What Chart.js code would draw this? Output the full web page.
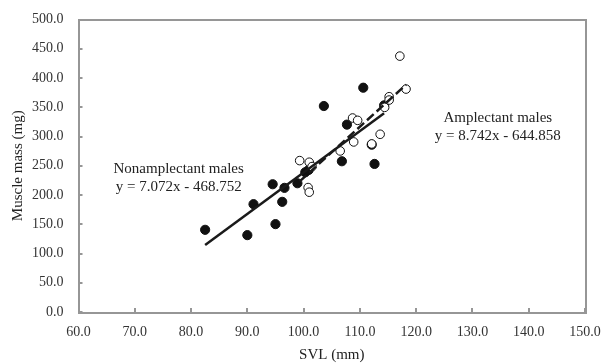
<!DOCTYPE html>
<html>
<head>
<meta charset="utf-8">
<script src="https://cdn.jsdelivr.net/npm/chart.js@4.4.1/dist/chart.umd.min.js"></script>
<style>
  html, body { margin: 0; padding: 0; background: #fff; }
  #wrap { width: 615px; height: 364px; }
</style>
</head>
<body>
<div id="wrap"><canvas id="muscleChart"></canvas></div>
<script>
// values
const nonSVL  = [82.5, 90.0, 91.1, 94.5, 95.0, 96.6, 96.2, 98.9, 100.3, 100.9, 103.6, 106.8, 107.7, 110.6, 112.1, 112.6, 114.3];
const nonMass = [140.5, 131.4, 184.3, 218.4, 150.2, 212.2, 188.3, 220.1, 238.9, 242.9, 352.1, 257.7, 320.3, 383.4, 286.0, 253.1, 353.2];

const ampSVL  = [99.3, 101.0, 101.5, 100.8, 101.0, 106.5, 108.7, 109.6, 108.9, 112.1, 113.6, 114.4, 115.2, 115.2, 117.1, 118.2];
const ampMass = [258.8, 256.0, 248.6, 212.7, 204.8, 275.3, 331.6, 327.6, 290.7, 287.3, 303.8, 349.8, 368.0, 362.3, 437.4, 381.1];

// trendlines as printed on the chart
const nonFit = {slope: 7.072, intercept: -468.752, from: 82.5, to: 114.3};
const ampFit = {slope: 8.742, intercept: -644.858, from: 99.3, to: 118.2};

const xTicks = [60, 70, 80, 90, 100, 110, 120, 130, 140, 150];

const labels = [
  {text: ['Nonamplectant males', 'y = 7.072x - 468.752'], x: 77.8, y: 244.5, y2: 213.0},
  {text: ['Amplectant males', 'y = 8.742x - 644.858'], x: 134.5, y: 332.0, y2: 300.8}
];

function toPoints(xs, ys) {
  return xs.map((x, i) => ({x: x, y: ys[i]}));
}
function fitLine(f) {
  return [f.from, f.to].map(x => ({x: x, y: f.slope * x + f.intercept}));
}

const serif = "'Liberation Serif', 'Times New Roman', serif";
const axisGray = '#969696';

// frame round the plot, inward tick marks, and the two equation labels
const frameAndText = {
  id: 'frameAndText',
  afterDraw(chart) {
    const {ctx, chartArea: a, scales} = chart;
    ctx.save();
    ctx.strokeStyle = axisGray;
    ctx.lineWidth = 2;
    ctx.beginPath();
    ctx.rect(Math.round(a.left), Math.round(a.top), Math.round(a.right - a.left), Math.round(a.bottom - a.top));
    scales.y.ticks.forEach(t => {
      const py = Math.round(scales.y.getPixelForValue(t.value));
      ctx.moveTo(a.left, py);
      ctx.lineTo(a.left + 4, py);
    });
    scales.x.ticks.forEach(t => {
      const px = Math.round(scales.x.getPixelForValue(t.value));
      ctx.moveTo(px, a.bottom);
      ctx.lineTo(px, a.bottom - 4);
    });
    ctx.stroke();

    ctx.fillStyle = '#222';
    ctx.font = '15px ' + serif;
    ctx.textAlign = 'center';
    ctx.textBaseline = 'middle';
    labels.forEach(l => {
      const px = scales.x.getPixelForValue(l.x);
      ctx.fillText(l.text[0], px, scales.y.getPixelForValue(l.y));
      ctx.fillText(l.text[1], px, scales.y.getPixelForValue(l.y2));
    });
    ctx.restore();
  }
};

new Chart(document.getElementById('muscleChart'), {
  type: 'scatter',
  data: {
    datasets: [
      {
        label: 'Nonamplectant fit',
        type: 'line',
        data: fitLine(nonFit),
        borderColor: '#1a1a1a',
        borderWidth: 2.5,
        pointRadius: 0,
        fill: false,
        order: 0
      },
      {
        label: 'Amplectant fit',
        type: 'line',
        data: fitLine(ampFit),
        borderColor: '#1a1a1a',
        borderWidth: 2.5,
        borderDash: [9, 4],
        pointRadius: 0,
        fill: false,
        order: 0
      },
      {
        label: 'Nonamplectant males',
        data: toPoints(nonSVL, nonMass),
        pointRadius: 4.6,
        pointBackgroundColor: '#111',
        pointBorderColor: '#111',
        pointBorderWidth: 1,
        order: 2
      },
      {
        label: 'Amplectant males',
        data: toPoints(ampSVL, ampMass),
        pointRadius: 4.3,
        pointBackgroundColor: '#fff',
        pointBorderColor: '#111',
        pointBorderWidth: 1,
        order: 1
      }
    ]
  },
  options: {
    responsive: true,
    maintainAspectRatio: false,
    animation: false,
    layout: {padding: {left: 0, right: 30, top: 19.5, bottom: 0}},
    plugins: {
      legend: {display: false},
      tooltip: {enabled: false}
    },
    scales: {
      x: {
        type: 'linear',
        min: 60,
        max: 150,
        afterBuildTicks: axis => { axis.ticks = xTicks.map(v => ({value: v})); },
        afterFit: axis => { axis.height = 52; },
        border: {display: false},
        grid: {display: false, drawTicks: false},
        ticks: {
          color: '#333',
          font: {family: serif, size: 14},
          padding: 12,
          maxRotation: 0,
          callback: v => Number(v).toFixed(1)
        },
        title: {
          display: true,
          text: 'SVL (mm)',
          color: '#222',
          font: {family: serif, size: 15},
          padding: {top: 2, bottom: 0}
        }
      },
      y: {
        min: 0,
        max: 500,
        afterFit: axis => {
          axis.width = 78.5;
          axis.paddingTop = 0;
          axis.paddingBottom = 0;
        },
        border: {display: false},
        grid: {display: false, drawTicks: false},
        ticks: {
          stepSize: 50,
          color: '#333',
          font: {family: serif, size: 14},
          padding: 15,
          callback: v => Number(v).toFixed(1)
        },
        title: {
          display: true,
          text: 'Muscle mass (mg)',
          color: '#222',
          font: {family: serif, size: 15},
          padding: {top: 9, bottom: 0}
        }
      }
    }
  },
  plugins: [frameAndText]
});
</script>
</body>
</html>
